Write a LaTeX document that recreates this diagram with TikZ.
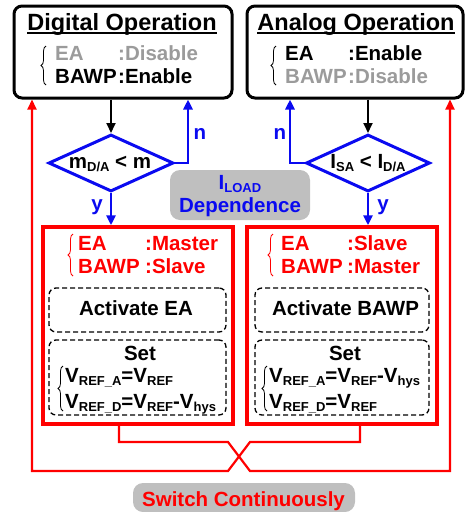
\documentclass[tikz,border=0pt]{standalone}
\usepackage{fontspec}
\setmainfont{Liberation Sans}
\usetikzlibrary{shapes.geometric,arrows.meta,decorations.pathreplacing}
\definecolor{myred}{RGB}{255,0,0}
\definecolor{myblue}{RGB}{10,10,240}
\definecolor{mygray}{RGB}{155,155,155}
\definecolor{boxgray}{RGB}{191,191,191}
\newcommand{\sbs}[1]{\raisebox{-0.35ex}{\fontsize{13}{13}\selectfont #1}}
\begin{document}
\begin{tikzpicture}[x=1pt,y=-1pt,
  font=\fontsize{20.5}{24}\selectfont\bfseries,
  opbox/.style={draw=black, line width=3pt, rounded corners=8pt, inner sep=0pt},
  redbox/.style={draw=myred, line width=3.5pt, inner sep=0pt},
  dashbox/.style={draw=black, line width=1.3pt, dashed, dash pattern=on 5pt off 3pt, rounded corners=7pt, inner sep=0pt},
  graybox/.style={fill=boxgray, rounded corners=10pt, inner sep=0pt},
  dec/.style={diamond, draw=myblue, line width=3pt, inner sep=0pt, aspect=2.2},
  txt/.style={inner sep=0pt, anchor=base west},
  ctxt/.style={inner sep=0pt, anchor=base},
  tip/.style={-{Triangle[length=10pt,width=9pt]}},
  blackarrow/.style={tip, draw=black, line width=1.8pt},
  bluearrow/.style={tip, draw=myblue, line width=2.8pt},
  redarrow/.style={tip, draw=myred, line width=2.2pt},
  uline/.style={line width=1.6pt},
  brc/.style={decorate, decoration={brace, amplitude=5pt}, line width=0.8pt},
]
\useasboundingbox (0,0) rectangle (466,512);

% top boxes
\node[opbox, minimum width=218pt, minimum height=92pt] (tl) at (123,52) {};
\node[opbox, minimum width=216pt, minimum height=92pt] (tr) at (355,52) {};
\node[ctxt, font=\fontsize{23.5}{26}\selectfont\bfseries] (tlt) at (122,30) {Digital Operation};
\node[ctxt, font=\fontsize{23.5}{26}\selectfont\bfseries] (trt) at (356,30) {Analog Operation};
\draw[uline] ([yshift=-3pt]tlt.base west) -- ([yshift=-3pt]tlt.base east);
\draw[uline] ([yshift=-3pt]trt.base west) -- ([yshift=-3pt]trt.base east);
\node[txt, text=mygray] (tl1) at (55,60) {\makebox[63pt][l]{EA}:Disable};
\node[txt] (tl2) at (55,83) {\makebox[63pt][l]{BAWP}:Enable};
\node[txt] (tr1) at (285,60) {\makebox[63pt][l]{EA}:Enable};
\node[txt, text=mygray] (tr2) at (285,83) {\makebox[63pt][l]{BAWP}:Disable};
\draw[brc, draw=black] (46,85) -- (46,46);
\draw[brc, draw=black] (276,85) -- (276,46);

% diamonds
\node[dec, minimum width=125pt, minimum height=57pt] (d1) at (111,163) {};
\node[dec, minimum width=124pt, minimum height=57pt] (d2) at (368,163) {};
\node[ctxt] (d1t) at (110,168) {m\sbs{D/A} < m};
\node[ctxt] (d2t) at (368,168) {I\sbs{SA} < I\sbs{D/A}};

% ILOAD box
\node[graybox, minimum width=140pt, minimum height=50pt] (il) at (240,195) {};
\node[ctxt, text=myblue] (ilt1) at (240,189) {I\sbs{LOAD}};
\node[ctxt, text=myblue] (ilt2) at (240,212) {Dependence};

% red boxes
\node[redbox, minimum width=190pt, minimum height=197pt] (rb1) at (138,325.5) {};
\node[redbox, minimum width=190pt, minimum height=197pt] (rb2) at (342,325.5) {};
\node[txt, text=myred] (r11) at (78,250) {\makebox[67pt][l]{EA}:Master};
\node[txt, text=myred] (r12) at (78,273) {\makebox[67pt][l]{BAWP}:Slave};
\node[txt, text=myred] (r21) at (281,250) {\makebox[66pt][l]{EA}:Slave};
\node[txt, text=myred] (r22) at (281,273) {\makebox[66pt][l]{BAWP}:Master};
\draw[brc, draw=myred] (73,276) -- (73,234);
\draw[brc, draw=myred] (273,276) -- (273,234);

% dashed boxes
\node[dashbox, minimum width=177pt, minimum height=44pt] (da1) at (137.5,310) {};
\node[dashbox, minimum width=174pt, minimum height=44pt] (da2) at (342,310) {};
\node[ctxt] (da1t) at (136,315) {Activate EA};
\node[ctxt] (da2t) at (345.5,315) {Activate BAWP};
\node[dashbox, minimum width=177pt, minimum height=75pt] (ds1) at (137.5,377.5) {};
\node[dashbox, minimum width=174pt, minimum height=75pt] (ds2) at (342,377.5) {};
\node[ctxt] (ds1t) at (140,360) {Set};
\node[ctxt] (ds2t) at (345,360) {Set};
\node[txt] (v11) at (65,382) {V\sbs{REF\_A}=V\sbs{REF}};
\node[txt] (v12) at (65,408) {V\sbs{REF\_D}=V\sbs{REF}-V\sbs{hys}};
\node[txt] (v21) at (269,382) {V\sbs{REF\_A}=V\sbs{REF}-V\sbs{hys}};
\node[txt] (v22) at (269,408) {V\sbs{REF\_D}=V\sbs{REF}};
\draw[brc, draw=black] (63,411) -- (63,366);
\draw[brc, draw=black] (267,411) -- (267,366);

% labels n / y
\node[ctxt, text=myblue] (n1) at (200,139) {n};
\node[ctxt, text=myblue] (n2) at (280,139) {n};
\node[ctxt, text=myblue] (y1) at (97,210) {y};
\node[ctxt, text=myblue] (y2) at (383,210) {y};

% switch box
\node[graybox, minimum width=222pt, minimum height=29pt] (sw) at (244,497.5) {};
\node[ctxt, text=myred] (swt) at (243.5,506) {Switch Continuously};

% connectors
\draw[blackarrow] (tl.south -| d1.north) -- (d1.north);
\draw[blackarrow] (tr.south -| d2.north) -- (d2.north);
\draw[bluearrow] (d1.south) -- (d1.south |- rb1.north);
\draw[bluearrow] (d2.south) -- (d2.south |- rb2.north);
\draw[bluearrow] (d1.east) -| ([xshift=65pt]tl.south);
\draw[bluearrow] (d2.west) -| ([xshift=-65pt]tr.south);

\coordinate (c1) at (228,442);
\coordinate (c2) at (250,471);
\coordinate (c3) at (250,442);
\coordinate (c4) at (228,471);
\draw[redarrow] ([xshift=-19pt]rb1.south) |- (c1) -- (c2) -| ([xshift=95pt]tr.south);
\draw[redarrow] ([xshift=18pt]rb2.south) |- (c3) -- (c4) -| ([xshift=-91pt]tl.south);
\end{tikzpicture}
\end{document}
